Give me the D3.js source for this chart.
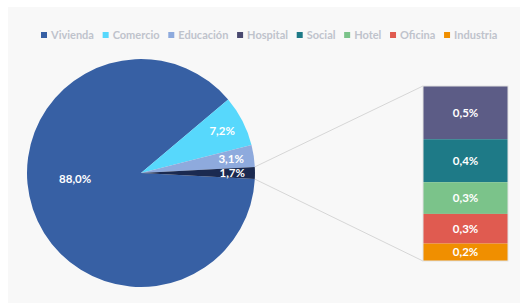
<!DOCTYPE html>
<html><head><meta charset="utf-8">
<script src="https://cdn.jsdelivr.net/npm/d3@7/dist/d3.min.js"></script>
<style>html,body{margin:0;padding:0;background:#fff;}svg{display:block;}</style>
</head><body>
<svg id="c" width="520" height="304"></svg>
<script>
// Data
const pieCategories = ["Vivienda", "Comercio", "Educación", "Otros"];
const pieValues = [88.0, 7.2, 3.1];
const barCategories = ["Hospital", "Social", "Hotel", "Oficina", "Industria"];
const barValues = [0.52, 0.42, 0.31, 0.29, 0.17];
const legendCategories = ["Vivienda", "Comercio", "Educación", "Hospital", "Social", "Hotel", "Oficina", "Industria"];
const colors = {
  "Vivienda": "#3760a4", "Comercio": "#57d8fc", "Educación": "#8eaadd", "Otros": "#1b2a50",
  "Hospital": "#5c5c86", "Social": "#1e7a87", "Hotel": "#7bc38a", "Oficina": "#e05b50", "Industria": "#f08f00"
};
const legendColors = Object.assign({}, colors, {"Hospital": "#4a4a70"});

const otherTotal = d3.sum(barValues);
const pieData = pieCategories.map((c, i) => ({cat: c, value: i < pieValues.length ? pieValues[i] : otherTotal}));
const fmt = v => d3.format(".1f")(v).replace(".", ",") + "%";

const svg = d3.select("#c");
svg.append("rect").attr("x", 8).attr("y", 7).attr("width", 512).attr("height", 296).attr("fill", "#f8f8f8");

// Pie
const cx = 141, cy = 173, R = 114;
const total = d3.sum(pieData, d => d.value);
const otherAngle = otherTotal / total * 2 * Math.PI;
const start = Math.PI / 2 + otherAngle / 2;
const pie = d3.pie().sort(null).value(d => d.value).startAngle(start).endAngle(start + 2 * Math.PI);
const arcs = pie(pieData);
const arc = d3.arc().innerRadius(0).outerRadius(R);
const g = svg.append("g").attr("transform", `translate(${cx},${cy})`);
g.selectAll("path").data(arcs).join("path").attr("d", arc).attr("fill", d => colors[d.data.cat]);

const labelArc = d3.arc().innerRadius(R * 0.8).outerRadius(R * 0.8);
g.selectAll("text").data(arcs).join("text")
  .attr("transform", d => {
    if (d.data.cat === "Vivienda") {
      const a = 265 * Math.PI / 180;
      return `translate(${R * 0.58 * Math.sin(a)},${-R * 0.58 * Math.cos(a)})`;
    }
    const p = labelArc.centroid(d);
    return `translate(${p[0]},${p[1]})`;
  })
  .attr("text-anchor", "middle").attr("dy", "0.35em")
  .attr("fill", "#fff").attr("font-family", "Lato").attr("font-weight", "bold").attr("font-size", 11.5)
  .text(d => fmt(d.data.value));

// Bar (pie of pie)
const bx = 423, bw = 85, by0 = 86, by1 = 261;
const y = d3.scaleLinear().domain([0, otherTotal]).range([by0, by1]);
let acc = 0;
const stack = barCategories.map((c, i) => { const s = {cat: c, v: barValues[i], y0: acc, y1: acc + barValues[i]}; acc += barValues[i]; return s; });

// connector lines
const oArc = arcs[3];
const p1 = [cx + R * Math.sin(oArc.startAngle), cy - R * Math.cos(oArc.startAngle)];
const p2 = [cx + R * Math.sin(oArc.endAngle), cy - R * Math.cos(oArc.endAngle)];
svg.append("line").attr("x1", p1[0]).attr("y1", p1[1]).attr("x2", bx).attr("y2", y(0)).attr("stroke", "#d6d6d6").attr("stroke-width", 1);
svg.append("line").attr("x1", p2[0]).attr("y1", p2[1]).attr("x2", bx).attr("y2", y(otherTotal)).attr("stroke", "#d6d6d6").attr("stroke-width", 1);

svg.append("g").selectAll("rect").data(stack).join("rect")
  .attr("x", bx).attr("width", bw).attr("y", d => y(d.y0)).attr("height", d => y(d.y1) - y(d.y0))
  .attr("fill", d => colors[d.cat]);
svg.append("rect").attr("x", bx).attr("y", by0).attr("width", bw).attr("height", by1 - by0)
  .attr("fill", "none").attr("stroke", "#e2e2e2").attr("stroke-width", 1);
svg.append("g").selectAll("text").data(stack).join("text")
  .attr("x", bx + bw / 2).attr("y", d => (y(d.y0) + y(d.y1)) / 2).attr("dy", "0.35em")
  .attr("text-anchor", "middle").attr("fill", "#fff").attr("font-family", "Lato").attr("font-weight", "bold").attr("font-size", 11.5)
  .text(d => fmt(d.v));

// Legend
const lg = svg.append("g");
let lx = 41;
const ly = 35;
legendCategories.forEach(c => {
  lg.append("rect").attr("x", lx).attr("y", ly - 3).attr("width", 6).attr("height", 6).attr("fill", legendColors[c]);
  const t = lg.append("text").attr("x", lx + 10).attr("y", ly).attr("dy", "0.35em")
    .attr("font-family", "Lato").attr("font-weight", "bold").attr("font-size", 11).attr("fill", "#bfc3cc").text(c);
  lx += 10 + t.node().getComputedTextLength() + 8.7;
});
</script>
</body></html>
